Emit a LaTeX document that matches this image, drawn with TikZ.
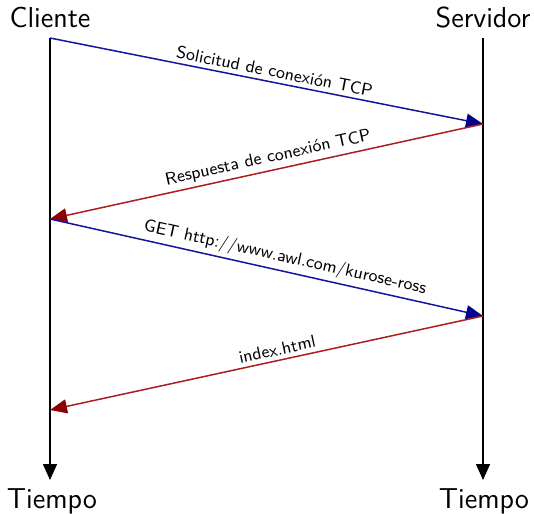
\documentclass[tikz,border=0pt]{standalone}
\usetikzlibrary{arrows.meta}
\renewcommand{\familydefault}{\sfdefault}
\definecolor{reqblue}{RGB}{20,20,160}
\definecolor{respred}{RGB}{170,30,30}
\definecolor{reqhead}{RGB}{0,0,140}
\definecolor{resphead}{RGB}{140,0,0}
\begin{document}
\begin{tikzpicture}[x=0.5pt,y=-0.5pt,
  lifeline/.style={line width=0.75pt,-{Triangle[length=8pt,width=7pt]}},
  msgreq/.style={line width=0.75pt,reqblue,-{Triangle[length=8.5pt,width=7pt,color=reqhead]}},
  msgresp/.style={line width=0.75pt,respred,-{Triangle[length=8.5pt,width=7pt,color=resphead]}},
  msglabel/.style={font=\fontsize{8.7}{10}\selectfont,sloped,above,inner sep=2pt,text=black},
  party/.style={font=\Large,anchor=base,inner sep=0pt}]
\useasboundingbox (0,0) rectangle (534,513);
\node[party] (cl) at (50,28) {Cliente};
\node[party] (sv) at (483,28) {Servidor};
\node[party] (tc) at (52,508) {Tiempo};
\node[party] (ts) at (484,508) {Tiempo};
\coordinate (c0) at (50,38);
\coordinate (s0) at (483,38);
\coordinate (c1) at (50,219);
\coordinate (c2) at (50,410);
\coordinate (s1) at (483,124);
\coordinate (s2) at (483,316);
\coordinate (cend) at (50,480);
\coordinate (send) at (483,480);
\draw[lifeline] (c0) -- (cend);
\draw[lifeline] (s0) -- (send);
\draw[msgreq] (c0) -- node[msglabel,pos=0.514] {Solicitud de conexión TCP} (s1);
\draw[msgresp] (s1) -- node[msglabel,pos=0.49] {Respuesta de conexión TCP} (c1);
\draw[msgreq] (c1) -- node[msglabel,pos=0.536] {GET http://www.awl.com/kurose-ross} (s2);
\draw[msgresp] (s2) -- node[msglabel,pos=0.47] {index.html} (c2);
\end{tikzpicture}
\end{document}
